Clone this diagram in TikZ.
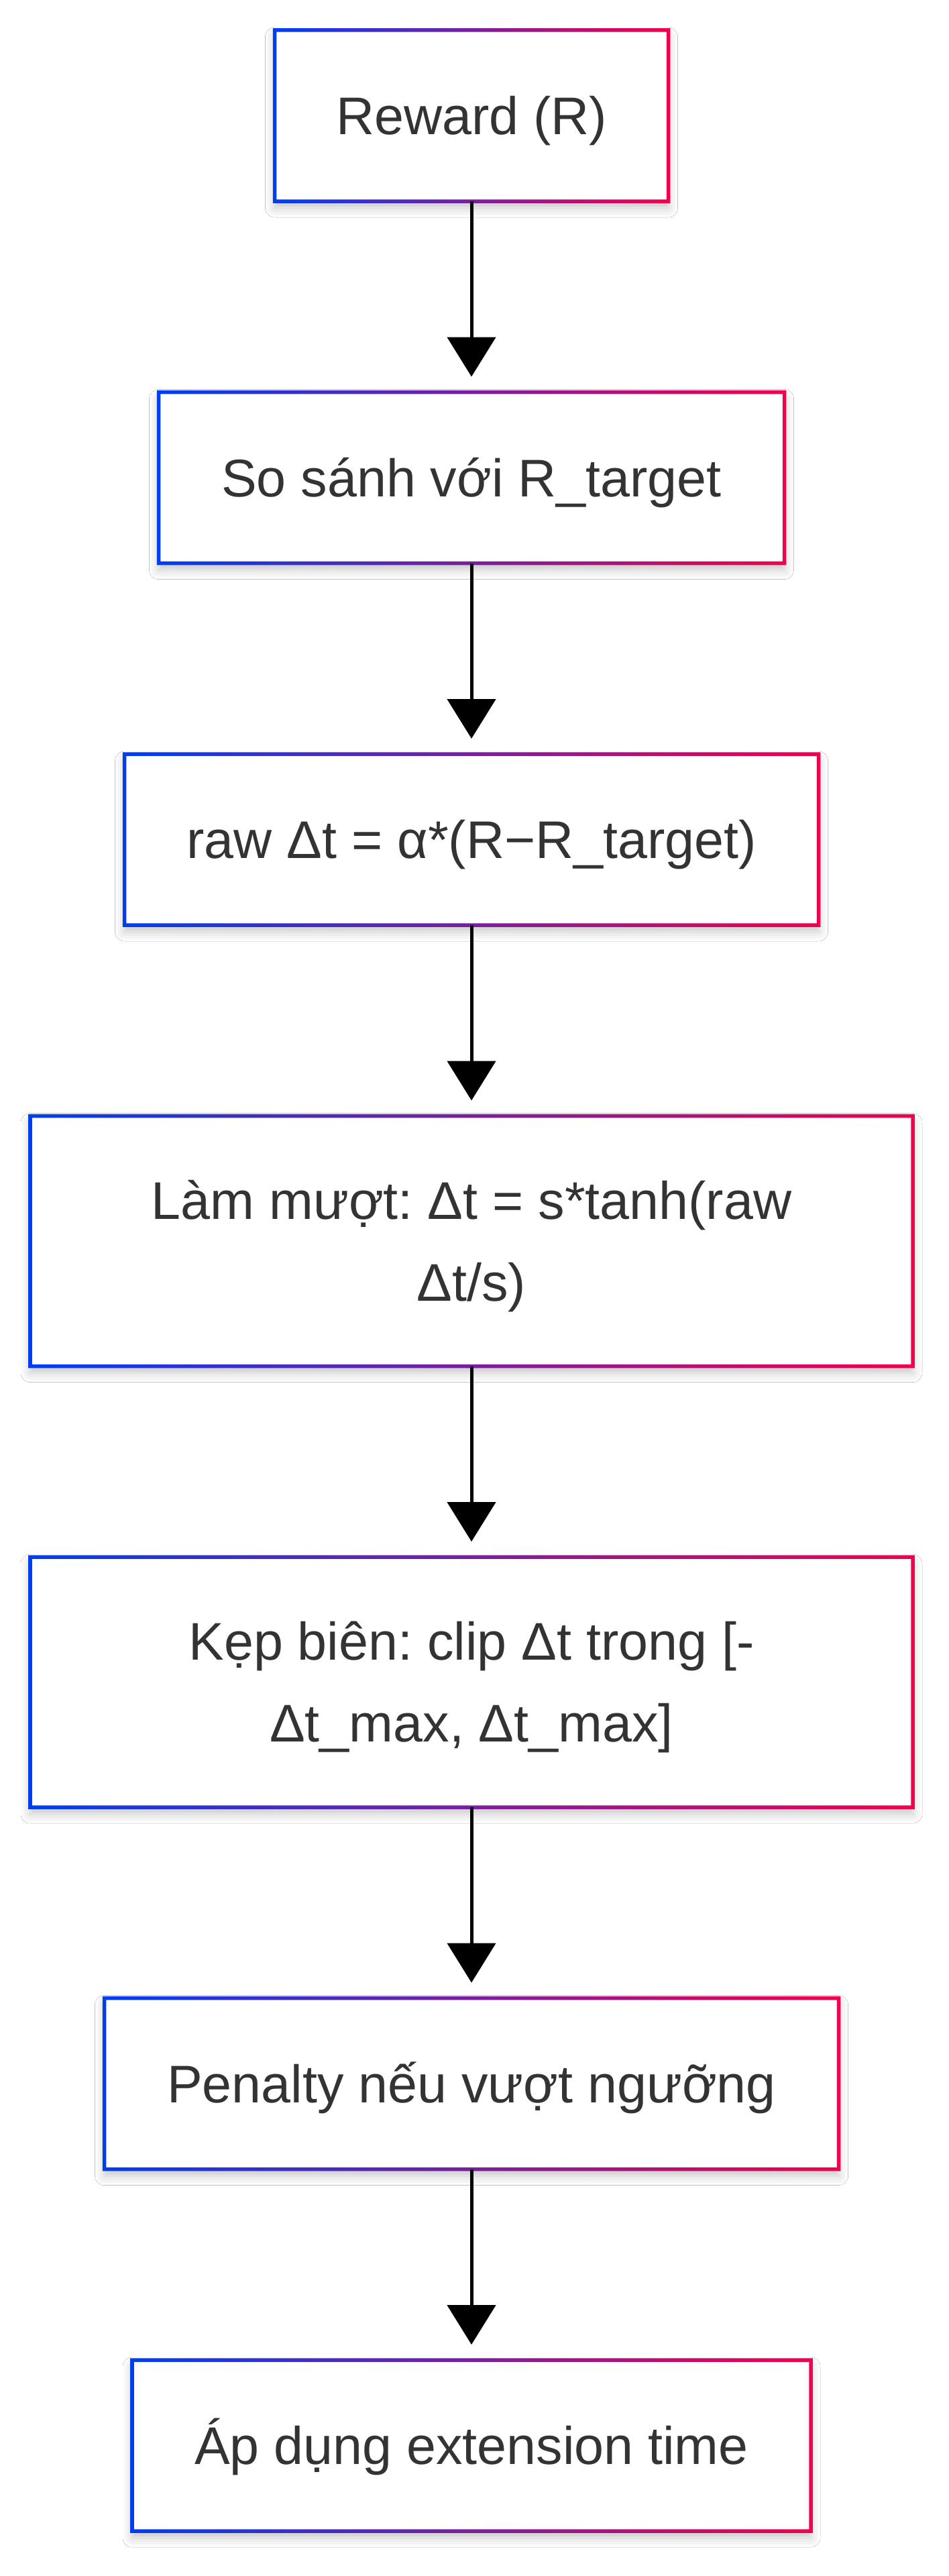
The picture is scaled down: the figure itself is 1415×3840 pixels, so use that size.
\documentclass[tikz,border=0pt]{standalone}
\usepackage{fontspec}
\setmainfont{Liberation Sans}
\frenchspacing
\usetikzlibrary{arrows.meta,shadows.blur,calc}
\definecolor{gblue}{RGB}{0,62,240}
\definecolor{gred}{RGB}{242,0,76}
\definecolor{txt}{RGB}{51,51,51}
\newcommand{\tstrut}{\rule{0pt}{1em}}
\newcommand{\bstrut}{\rule[-0.284em]{0pt}{0.284em}}
\tikzset{
  flowbox/.style={rectangle, inner sep=0pt, outer sep=0pt, fill=white,
    text=txt, align=center,
    font=\fontsize{79}{122}\selectfont,
    blur shadow={shadow xshift=0pt, shadow yshift=-10pt, shadow blur radius=14pt, shadow opacity=22}},
  oneline/.style={flowbox, minimum height=255pt},
  twoline/.style={flowbox, minimum height=373pt},
  flowarrow/.style={line width=5pt, draw=black, -{Triangle[length=59pt,width=72pt]}, shorten >=23pt}
}
\newcommand{\gframe}[1]{%
  \shade[left color=gblue, right color=gred, even odd rule]
    ($(#1.south west)+(-2.75pt,-2.75pt)$) rectangle ($(#1.north east)+(2.75pt,2.75pt)$)
    ($(#1.south west)+(2.75pt,2.75pt)$) rectangle ($(#1.north east)+(-2.75pt,-2.75pt)$);}
\begin{document}
\begin{tikzpicture}[x=1pt,y=-1pt]
\useasboundingbox (0,0) rectangle (1415,3840);
\fill[white] (0,0) rectangle (1415,3840);

\node[oneline, minimum width=587pt] (b1) at (703,172.5) {\tstrut\bstrut Reward (R)};
\node[oneline, minimum width=933pt] (b2) at (703,712) {\tstrut\bstrut So sánh với R\_target};
\node[oneline, minimum width=1035pt] (b3) at (703,1251.5) {\tstrut\bstrut raw Δt = α*(R−R\_target)};
\node[twoline, minimum width=1316pt] (b4) at (703,1850) {\tstrut Làm mượt: Δt = s*tanh(raw\\\bstrut Δt/s)};
\node[twoline, minimum width=1316pt] (b5) at (703,2507.5) {\tstrut Kẹp biên: clip Δt trong [-\\\bstrut Δt\_max, Δt\_max]};
\node[oneline, minimum width=1095pt] (b6) at (703,3106) {\tstrut\bstrut Penalty nếu vượt ngưỡng};
\node[oneline, minimum width=1012pt] (b7) at (703,3645.5) {\tstrut\bstrut Áp dụng extension time};

\foreach \b in {b1,b2,b3,b4,b5,b6,b7}{\gframe{\b}}

\draw[flowarrow] (b1.south) -- (b2.north);
\draw[flowarrow] (b2.south) -- (b3.north);
\draw[flowarrow] (b3.south) -- (b4.north);
\draw[flowarrow] (b4.south) -- (b5.north);
\draw[flowarrow] (b5.south) -- (b6.north);
\draw[flowarrow] (b6.south) -- (b7.north);
\end{tikzpicture}
\end{document}
